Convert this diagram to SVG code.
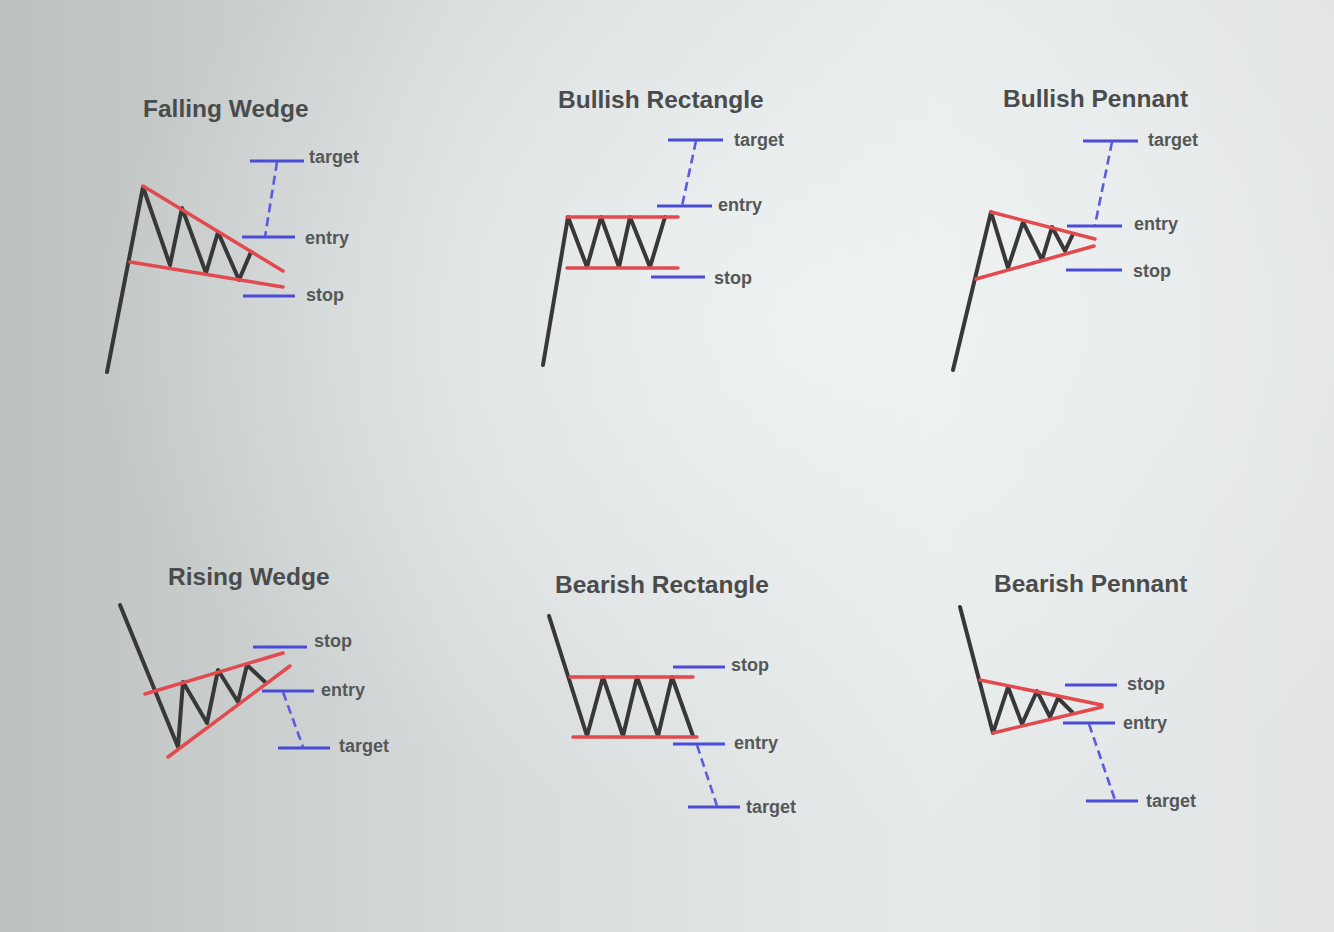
<svg xmlns="http://www.w3.org/2000/svg" width="1334" height="932" viewBox="0 0 1334 932">
<defs>
<linearGradient id="bgl" x1="0" y1="0" x2="1" y2="0">
<stop offset="0" stop-color="#bcc0bf"/>
<stop offset="0.35" stop-color="#d6dada"/>
<stop offset="0.7" stop-color="#e6eaeb"/>
<stop offset="1" stop-color="#e2e4e4"/>
</linearGradient>
<radialGradient id="bgr" cx="0.62" cy="0.35" r="0.55">
<stop offset="0" stop-color="#f2f5f6" stop-opacity="0.8"/>
<stop offset="1" stop-color="#f2f5f6" stop-opacity="0"/>
</radialGradient>
<style>
.price{fill:none;stroke:#383838;stroke-width:4;stroke-linejoin:round;stroke-linecap:round}
.trend{fill:none;stroke:#e24a4e;stroke-width:3.5;stroke-linecap:round}
.lvl{fill:none;stroke:#4a4bd6;stroke-width:3}
.dash{fill:none;stroke:#5a5ce0;stroke-width:2.6;stroke-dasharray:9 5}
.title{font-family:"Liberation Sans",Arial,sans-serif;font-weight:bold;font-size:24.5px;fill:#4a4c4c}
.lbl{font-family:"Liberation Sans",Arial,sans-serif;font-weight:bold;font-size:18px;fill:#555858}
</style>
</defs>
<rect width="1334" height="932" fill="url(#bgl)"/>
<rect width="1334" height="932" fill="url(#bgr)"/>

<g id="falling-wedge">
<text class="title" x="143" y="117">Falling Wedge</text>
<polyline class="price" points="107,372 143,187 170,265 182,208 206,273 218,232 239,280 251,252"/>
<line class="trend" x1="143" y1="186" x2="283" y2="271"/>
<line class="trend" x1="130" y1="262" x2="283" y2="287"/>
<line class="lvl" x1="250" y1="161" x2="304" y2="161"/>
<line class="lvl" x1="242" y1="237" x2="295" y2="237"/>
<line class="lvl" x1="243" y1="296" x2="295" y2="296"/>
<line class="dash" x1="277" y1="162" x2="265" y2="237"/>
<text class="lbl" x="309" y="163">target</text>
<text class="lbl" x="305" y="244">entry</text>
<text class="lbl" x="306" y="301">stop</text>
</g>

<g id="bullish-rectangle">
<text class="title" x="558" y="108">Bullish Rectangle</text>
<polyline class="price" points="543,365 568,217 587,267 601,217 619,267 630,217 650,267 665,217"/>
<line class="trend" x1="567" y1="217" x2="678" y2="217"/>
<line class="trend" x1="567" y1="268" x2="678" y2="268"/>
<line class="lvl" x1="668" y1="140" x2="723" y2="140"/>
<line class="lvl" x1="657" y1="206" x2="712" y2="206"/>
<line class="lvl" x1="651" y1="277" x2="705" y2="277"/>
<line class="dash" x1="696" y1="141" x2="682" y2="206"/>
<text class="lbl" x="734" y="146">target</text>
<text class="lbl" x="718" y="211">entry</text>
<text class="lbl" x="714" y="284">stop</text>
</g>

<g id="bullish-pennant">
<text class="title" x="1003" y="107">Bullish Pennant</text>
<polyline class="price" points="953,370 991,212 1008,268 1023,222 1042,260 1052,227 1065,251 1073,234"/>
<line class="trend" x1="991" y1="212" x2="1095" y2="239"/>
<line class="trend" x1="976" y1="279" x2="1094" y2="246"/>
<line class="lvl" x1="1083" y1="141" x2="1138" y2="141"/>
<line class="lvl" x1="1067" y1="226" x2="1122" y2="226"/>
<line class="lvl" x1="1066" y1="270" x2="1122" y2="270"/>
<line class="dash" x1="1112" y1="142" x2="1095" y2="225"/>
<text class="lbl" x="1148" y="146">target</text>
<text class="lbl" x="1134" y="230">entry</text>
<text class="lbl" x="1133" y="277">stop</text>
</g>

<g id="rising-wedge">
<text class="title" x="168" y="585">Rising Wedge</text>
<polyline class="price" points="120,605 178,747 183,682 207,723 218,670 238,702 247,665 265,682"/>
<line class="trend" x1="145" y1="694" x2="283" y2="653"/>
<line class="trend" x1="168" y1="757" x2="290" y2="666"/>
<line class="lvl" x1="253" y1="647" x2="307" y2="647"/>
<line class="lvl" x1="262" y1="691" x2="314" y2="691"/>
<line class="lvl" x1="278" y1="748" x2="330" y2="748"/>
<line class="dash" x1="283" y1="692" x2="303" y2="747"/>
<text class="lbl" x="314" y="647">stop</text>
<text class="lbl" x="321" y="696">entry</text>
<text class="lbl" x="339" y="752">target</text>
</g>

<g id="bearish-rectangle">
<text class="title" x="555" y="593">Bearish Rectangle</text>
<polyline class="price" points="549,616 587,736 603,677 623,736 637,677 658,736 672,677 693,736"/>
<line class="trend" x1="570" y1="677" x2="693" y2="677"/>
<line class="trend" x1="573" y1="737" x2="697" y2="737"/>
<line class="lvl" x1="673" y1="667" x2="725" y2="667"/>
<line class="lvl" x1="673" y1="744" x2="725" y2="744"/>
<line class="lvl" x1="688" y1="807" x2="740" y2="807"/>
<line class="dash" x1="697" y1="745" x2="717" y2="806"/>
<text class="lbl" x="731" y="671">stop</text>
<text class="lbl" x="734" y="749">entry</text>
<text class="lbl" x="746" y="813">target</text>
</g>

<g id="bearish-pennant">
<text class="title" x="994" y="592">Bearish Pennant</text>
<polyline class="price" points="960,607 993,733 1008,687 1022,724 1037,691 1050,717 1058,698 1072,712"/>
<line class="trend" x1="980" y1="680" x2="1102" y2="705"/>
<line class="trend" x1="993" y1="733" x2="1102" y2="707"/>
<line class="lvl" x1="1065" y1="685" x2="1117" y2="685"/>
<line class="lvl" x1="1063" y1="723" x2="1115" y2="723"/>
<line class="lvl" x1="1086" y1="801" x2="1138" y2="801"/>
<line class="dash" x1="1089" y1="724" x2="1115" y2="800"/>
<text class="lbl" x="1127" y="690">stop</text>
<text class="lbl" x="1123" y="729">entry</text>
<text class="lbl" x="1146" y="807">target</text>
</g>
</svg>
